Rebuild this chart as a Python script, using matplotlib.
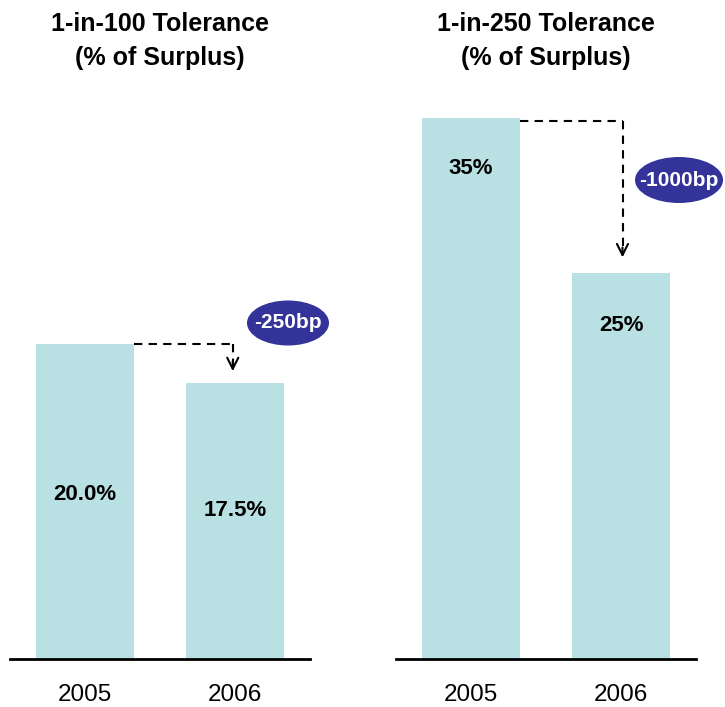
import matplotlib
matplotlib.use("Agg")
import matplotlib.pyplot as plt
from matplotlib.patches import Ellipse

plt.rcParams['font.family'] = ['Liberation Sans', 'DejaVu Sans']

years = ["2005", "2006"]
tol100 = [20.0, 17.5]
tol250 = [35.0, 25.0]
labels100 = ["20.0%", "17.5%"]
labels250 = ["35%", "25%"]
change100 = "-250bp"
change250 = "-1000bp"
titles = [("1-in-100 Tolerance", "(% of Surplus)"), ("1-in-250 Tolerance", "(% of Surplus)")]

W, H = 725, 707
fig = plt.figure(figsize=(W / 100, H / 100), dpi=100)
bar_color = "#B9E0E2"
oval_color = "#333399"

def fx(px):
    return px / W

def fy(py):
    return 1 - py / H

base_y = 659
ax_h = 580
panels = [
    dict(left=10, right=310, vals=tol100, labs=labels100, ylim=ax_h / 15.75,
         lab_y=[10.45, 9.45], tip_x=0.985, line_y=20.0, tip_y=18.1,
         oval=(288, 323, 82, 45), text=change100, title_x=160, title=titles[0]),
    dict(left=396, right=696, vals=tol250, labs=labels250, ylim=ax_h / 15.46,
         lab_y=[31.7, 21.6], tip_x=1.01, line_y=34.8, tip_y=25.8,
         oval=(679, 180, 88, 46), text=change250, title_x=546, title=titles[1]),
]

for p in panels:
    ax = fig.add_axes([fx(p['left']), fy(base_y), fx(p['right'] - p['left']), ax_h / H])
    x = [0, 1]
    ax.bar(x, p['vals'], width=0.65, color=bar_color, zorder=2)
    ax.set_xlim(-0.5, 1.5)
    ax.set_ylim(0, p['ylim'])
    for s in ['top', 'right', 'left']:
        ax.spines[s].set_visible(False)
    ax.spines['bottom'].set_linewidth(2)
    ax.set_yticks([])
    ax.set_xticks(x)
    ax.set_xticklabels(years, fontsize=17.5)
    ax.tick_params(axis='x', length=0, pad=18)
    for xi, ly, lab in zip(x, p['lab_y'], p['labs']):
        ax.text(xi, ly, lab, ha='center', va='center', fontsize=16, fontweight='bold')
    # dashed connector
    ax.plot([0.325, p['tip_x']], [p['line_y'], p['line_y']], ls=(0, (4, 3)), color='black', lw=1.5, zorder=3)
    ax.plot([p['tip_x'], p['tip_x']], [p['line_y'], p['tip_y'] + 0.3], ls=(0, (4, 3)), color='black', lw=1.5, zorder=3)
    ax.annotate("", xy=(p['tip_x'], p['tip_y']), xytext=(p['tip_x'], p['tip_y'] + 1.0),
                arrowprops=dict(arrowstyle='->', color='black', lw=1.5, mutation_scale=20))
    cx, cy, ew, eh = p['oval']
    fig.patches.append(Ellipse((fx(cx), fy(cy)), fx(ew), eh / H, transform=fig.transFigure,
                               facecolor=oval_color, edgecolor='none'))
    fig.text(fx(cx), fy(cy), p['text'], ha='center', va='center', color='white',
             fontsize=15, fontweight='bold')
    fig.text(fx(p['title_x']), fy(24), p['title'][0], ha='center', va='center',
             fontsize=18, fontweight='bold')
    fig.text(fx(p['title_x']), fy(58), p['title'][1], ha='center', va='center',
             fontsize=18, fontweight='bold')

fig.savefig("out.png", dpi=100)
